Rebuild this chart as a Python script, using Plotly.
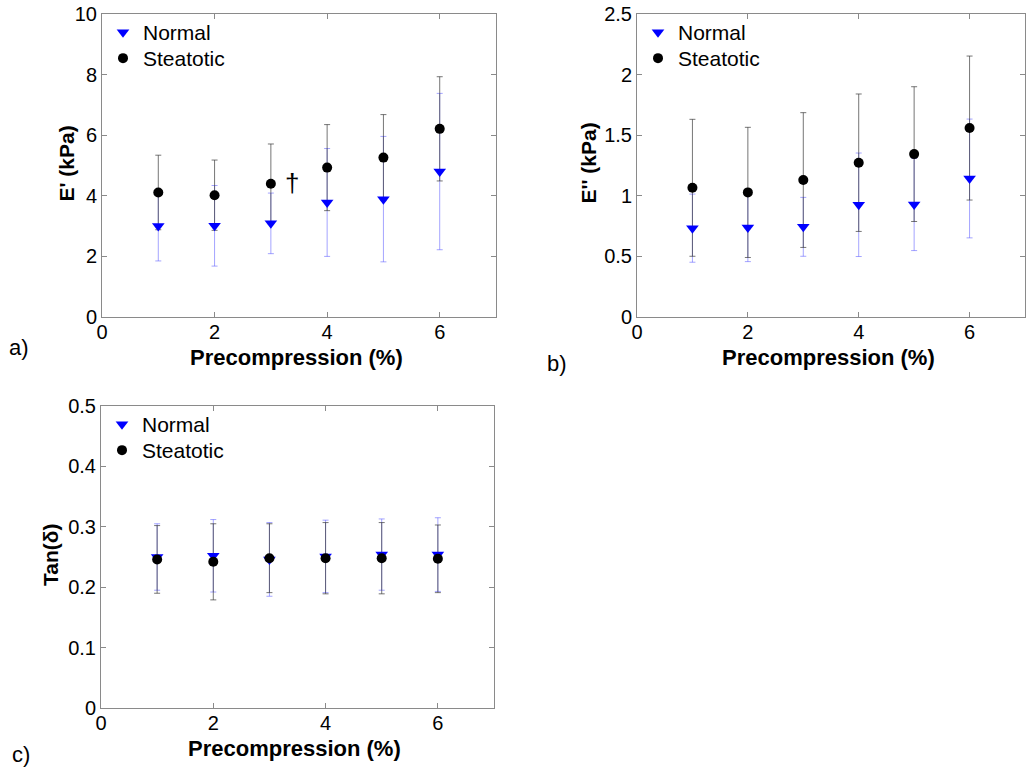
import plotly.graph_objects as go

W, H = 1026, 768

# ---------------- data ----------------
precomp = [1, 2, 3, 4, 5, 6]
x_ticks = [0, 2, 4, 6]

# a) E' (kPa)
a_normal = [3.00, 3.01, 3.09, 3.78, 3.89, 4.80]
a_normal_sd = [1.15, 1.33, 1.00, 1.78, 2.07, 2.58]
a_steatotic = [4.11, 4.02, 4.40, 4.93, 5.26, 6.21]
a_steatotic_sd = [1.23, 1.16, 1.31, 1.42, 1.42, 1.72]

# b) E'' (kPa)
b_normal = [0.733, 0.738, 0.744, 0.926, 0.928, 1.143]
b_normal_sd = [0.281, 0.281, 0.243, 0.427, 0.380, 0.490]
b_steatotic = [1.066, 1.028, 1.130, 1.273, 1.344, 1.559]
b_steatotic_sd = [0.565, 0.537, 0.556, 0.567, 0.556, 0.594]

# c) Tan(delta)
c_normal = [0.250, 0.252, 0.246, 0.251, 0.254, 0.254]
c_normal_sd = [0.055, 0.060, 0.061, 0.060, 0.059, 0.061]
c_steatotic = [0.246, 0.242, 0.248, 0.248, 0.248, 0.247]
c_steatotic_sd = [0.056, 0.063, 0.057, 0.059, 0.059, 0.056]

series_names = ["Normal", "Steatotic"]
y_titles = ["E' (kPa)", "E'' (kPa)", "Tan(δ)"]
x_title = "Precompression (%)"
panel_labels = ["a)", "b)", "c)"]
y_ranges = [[0, 10], [0, 2.5], [0, 0.5]]
y_dticks = [2, 0.5, 0.1]

# ---------------- layout geometry (pixels) ----------------
# plot boxes: (left, right, top, bottom)
boxes = [(102, 496, 14, 317), (637, 1025, 14, 317), (101, 494, 406, 708)]

FONT = "Liberation Sans"
AXC = "#8a8a8a"
BLUE = "#0000ff"

def px(x):
    return x / W

def py(y):
    return 1 - y / H

fig = go.Figure()

panels = [
    (a_normal, a_normal_sd, a_steatotic, a_steatotic_sd),
    (b_normal, b_normal_sd, b_steatotic, b_steatotic_sd),
    (c_normal, c_normal_sd, c_steatotic, c_steatotic_sd),
]

def legname(k):
    return "legend" if k == 0 else "legend" + str(k + 1)

for i, (nm, nsd, st, ssd) in enumerate(panels):
    sfx = "" if i == 0 else str(i + 1)
    xa, ya = "x" + sfx, "y" + sfx
    # error bars first
    fig.add_trace(go.Scatter(
        x=precomp, y=nm, mode="markers", xaxis=xa, yaxis=ya,
        marker=dict(size=1, color="rgba(0,0,0,0)"), showlegend=False, hoverinfo="skip",
        error_y=dict(type="data", array=nsd, visible=True, color="rgba(90,90,255,0.55)",
                     thickness=1, width=3)))
    fig.add_trace(go.Scatter(
        x=precomp, y=st, mode="markers", xaxis=xa, yaxis=ya,
        marker=dict(size=1, color="rgba(0,0,0,0)"), showlegend=False, hoverinfo="skip",
        error_y=dict(type="data", array=ssd, visible=True, color="rgba(60,60,60,0.7)",
                     thickness=1, width=3)))
    # markers (each entry in its own legend for exact placement)
    fig.add_trace(go.Scatter(
        x=precomp, y=nm, mode="markers", xaxis=xa, yaxis=ya, name=series_names[0],
        legend=legname(2 * i), marker=dict(symbol="triangle-down", size=11, color=BLUE,
                                           line=dict(width=0))))
    fig.add_trace(go.Scatter(
        x=precomp, y=st, mode="markers", xaxis=xa, yaxis=ya, name=series_names[1],
        legend=legname(2 * i + 1), marker=dict(symbol="circle", size=10, color="black",
                                               line=dict(width=0))))

layout = dict(
    width=W, height=H, margin=dict(l=0, r=0, t=0, b=0),
    paper_bgcolor="white", plot_bgcolor="white",
    font=dict(family=FONT, color="black", size=20),
    showlegend=True,
)

annotations = []
for i, (l, r, t, b) in enumerate(boxes):
    sfx = "" if i == 0 else str(i + 1)
    common = dict(showline=True, mirror="ticks", linecolor=AXC, linewidth=1,
                  ticks="inside", ticklen=5, tickcolor=AXC, tickwidth=1,
                  showgrid=False, zeroline=False, automargin=False,
                  tickfont=dict(family=FONT, size=20, color="black"))
    layout["xaxis" + sfx] = dict(domain=[px(l), px(r)], range=[0, 7], tickvals=x_ticks,
                                 anchor="y" + sfx, ticklabelstandoff=-3, **common)
    layout["yaxis" + sfx] = dict(domain=[py(b), py(t)], range=y_ranges[i],
                                 dtick=y_dticks[i], tick0=0, anchor="x" + sfx, **common)
    for k, off in enumerate([-2, 24]):
        layout[legname(2 * i + k)] = dict(
            x=px(l + 1), y=py(t + off), xanchor="left", yanchor="top",
            bgcolor="rgba(0,0,0,0)", borderwidth=0,
            font=dict(family=FONT, size=21, color="black"), itemwidth=30)
    # axis titles
    annotations.append(dict(text="<b>" + x_title + "</b>", x=px((l + r) / 2 - 3), y=py(b + 40),
                            xref="paper", yref="paper", showarrow=False,
                            font=dict(family=FONT, size=22, color="black"),
                            xanchor="center", yanchor="middle"))
    ytx = [66, 588, 50][i]
    annotations.append(dict(text="<b>" + y_titles[i] + "</b>", x=px(ytx), y=py((t + b) / 2 - 2),
                            xref="paper", yref="paper", showarrow=False, textangle=-90,
                            font=dict(family=FONT, size=21, color="black"),
                            xanchor="center", yanchor="middle"))

# panel labels
for lab, (lx, ly) in zip(panel_labels, [(19, 347), (557, 363), (21, 754)]):
    annotations.append(dict(text=lab, x=px(lx), y=py(ly), xref="paper", yref="paper",
                            showarrow=False, font=dict(family=FONT, size=22, color="black"),
                            xanchor="center", yanchor="middle"))

# dagger in panel a
annotations.append(dict(text="†", x=3.37, y=4.42, xref="x", yref="y", showarrow=False,
                        font=dict(family=FONT, size=26, color="black")))

layout["annotations"] = annotations
fig.update_layout(**layout)
fig.write_html("out.html")
